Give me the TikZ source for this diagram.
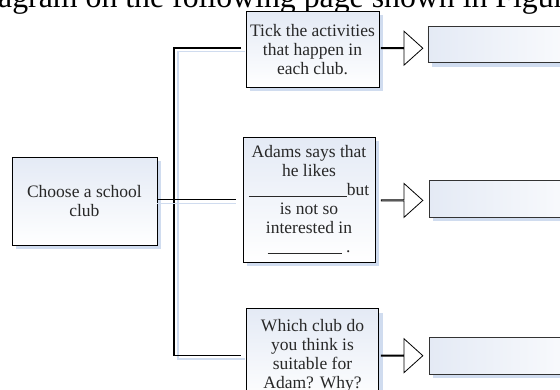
\documentclass[tikz,border=0pt]{standalone}
\usepackage{fontspec}
\setmainfont{Liberation Serif}
\usetikzlibrary{shapes.arrows,shadows}
\definecolor{boxtop}{RGB}{228,234,245}
\definecolor{shadowblue}{RGB}{208,220,239}
\definecolor{inkgray}{RGB}{40,40,40}
\tikzset{
  qbox/.style={draw=black, line width=0.8pt, top color=boxtop, bottom color=white,
    align=center, inner sep=1pt, font=\fontsize{17.5}{19}\selectfont, text=inkgray,
    drop shadow={shadow xshift=4pt, shadow yshift=-4pt, fill=shadowblue, opacity=1}},
  abox/.style={draw=black!80, line width=0.8pt, left color=boxtop, right color=white,
    minimum height=36.5pt, minimum width=180pt,
    drop shadow={shadow xshift=4pt, shadow yshift=-4pt, fill=shadowblue, opacity=1}},
  blockarrow/.style={single arrow, draw=black, line width=0.8pt, fill=white,
    minimum width=34pt, minimum height=41.5pt, single arrow head extend=11pt,
    single arrow tip angle=84, inner sep=0pt},
  bracket/.style={line width=1.5pt, black},
  bracketshadow/.style={line width=1.5pt, shadowblue},
}
\begin{document}
\begin{tikzpicture}[x=1pt,y=-1pt]
\useasboundingbox (0,0) rectangle (560,390);
\clip (0,0) rectangle (560,390);
\fill[white] (0,0) rectangle (560,390);
% heading fragment
\node[anchor=base west, inner sep=0pt, font=\fontsize{31.8}{36}\selectfont] (head) at (-2,7.6) {agram on the following page shown in Figure};
% boxes
\node[qbox, minimum width=145pt, minimum height=88pt] (club) at (84.4,201.4) {Choose a school\\club};
\node[qbox, minimum width=133pt, minimum height=76pt] (q1) at (312.5,49.5) {Tick the activities\\that happen in\\each club.};
\node[qbox, minimum width=132pt, minimum height=125pt] (q2) at (309,199.6) {Adams says that\\he likes\\\rule[-1pt]{98pt}{0.5pt}but\\is not so\\interested in\\\rule[-1pt]{74pt}{0.5pt} .};
\node[qbox, minimum width=132pt, minimum height=94.4pt] (q3) at (312.5,356) {Which club do\\you think is\\suitable for\\Adam? Why?};
% answer boxes
\node[abox, anchor=west] (a1) at (427.5,44.3) {};
\node[abox, anchor=west] (a2) at (429,199) {};
\node[abox, anchor=west] (a3) at (429,356) {};
% block arrows
\node[blockarrow] (r1) at (401.75,48.2) {};
\node[blockarrow] (r2) at (401.75,200.4) {};
\node[blockarrow] (r3) at (401.75,355.7) {};
% bracket connectors
\coordinate (top) at (174,48.2);
\coordinate (bot) at (174,355.7);
\coordinate (topend) at (241,48.2);
\coordinate (botend) at (241,355.7);
\coordinate (midend) at (235.7,200);
\draw[bracketshadow] ([shift={(4,3.5)}]topend) -- ([shift={(4,3.5)}]top) -- ([shift={(4,3.5)}]bot) -- ([shift={(4,3.5)}]botend);
\draw[bracket] (topend) -- (top) -- (bot) -- (botend);
\draw[shadowblue, line width=1.1pt] ([shift={(0,3.5)}]club.east |- midend) -- ([shift={(0,3.5)}]midend);
\draw[black, line width=1pt] (club.east |- midend) -- (midend);
\end{tikzpicture}
\end{document}
